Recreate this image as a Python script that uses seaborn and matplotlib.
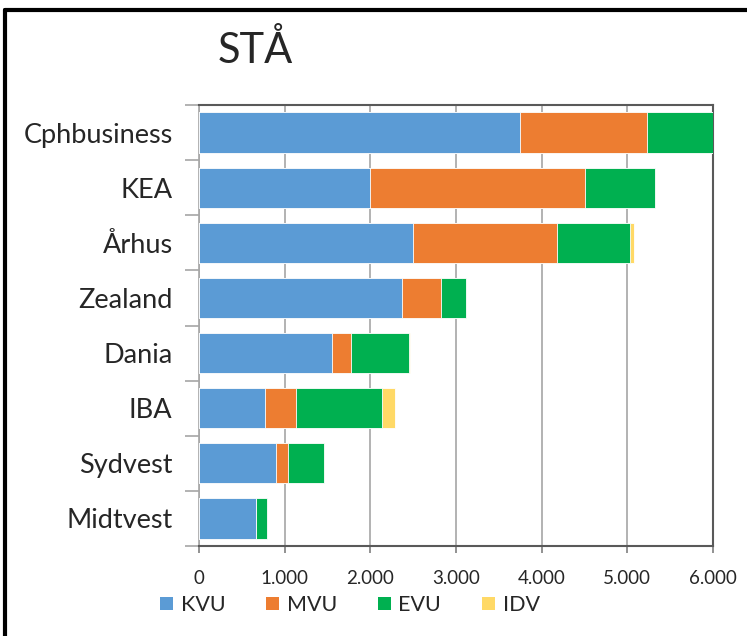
import numpy as np
import pandas as pd
import matplotlib.pyplot as plt
import seaborn as sns
from matplotlib.patches import Patch
from matplotlib.lines import Line2D

schools = ['Cphbusiness', 'KEA', 'Århus', 'Zealand', 'Dania', 'IBA', 'Sydvest', 'Midtvest']
kvu = [3750, 2000, 2500, 2370, 1550, 770, 900, 660]
mvu = [1485, 2510, 1677, 455, 219, 367, 140, 0]
evu = [785, 813, 850, 296, 681, 1001, 421, 133]
idv = [0, 0, 56, 0, 10, 148, 0, 0]

series = ['KVU', 'MVU', 'EVU', 'IDV']
colors = ['#5B9BD5', '#ED7D31', '#00B050', '#FFD966']

df = pd.DataFrame({'school': schools, 'KVU': kvu, 'MVU': mvu, 'EVU': evu, 'IDV': idv})
cum = df[series].cumsum(axis=1)

sns.set_style('white')
plt.rcParams['font.family'] = ['Lato', 'DejaVu Sans']

fig = plt.figure(figsize=(7.47, 6.36), dpi=100)
ax = fig.add_axes([199 / 747, 1 - 546 / 636, 514 / 747, 441 / 636])

# draw totals first, then overlay the smaller cumulative sums
for name, col in reversed(list(zip(series, colors))):
    sns.barplot(x=cum[name], y=df['school'], color=col, saturation=1, orient='h', width=0.73,
                edgecolor='white', linewidth=0.6, ax=ax, zorder=3)

ax.set_xlim(0, 6000)
ax.set_ylim(len(schools) - 0.5, -0.5)
ax.set_xticks(np.arange(0, 6001, 1000))
ax.set_xticklabels([f'{v:,}'.replace(',', '.') for v in range(0, 6001, 1000)], fontsize=13.5)
ax.set_yticks(range(len(schools)))
ax.set_yticklabels(schools, fontsize=19.5)
ax.set_yticks(np.arange(-0.5, len(schools), 1), minor=True)
ax.tick_params(axis='y', which='major', length=0, pad=19)
ax.tick_params(axis='y', which='minor', length=10, width=1.2, color='#A6A6A6', left=True)
ax.tick_params(axis='x', length=5, width=1.2, color='#7F7F7F', bottom=True, pad=12)
ax.set_xlabel('')
ax.set_ylabel('')
ax.grid(axis='x', color='#A6A6A6', linewidth=1.2, zorder=0)
ax.set_axisbelow(True)

for side in ['top', 'right', 'bottom']:
    ax.spines[side].set_visible(True)
    ax.spines[side].set_color('#595959')
    ax.spines[side].set_linewidth(1.5)
ax.spines['left'].set_visible(True)
ax.spines['left'].set_color('#A6A6A6')
ax.spines['left'].set_linewidth(1.2)

fig.text(255 / 747, 1 - 50 / 636, 'STÅ', fontsize=30, ha='center', va='center')

handles = [Patch(facecolor=c, edgecolor='none') for c in colors]
fig.legend(handles, series, loc='center', bbox_to_anchor=(350 / 747, 1 - 605 / 636),
           ncol=4, frameon=False, fontsize=15.5, handlelength=0.6, handleheight=0.6,
           handletextpad=0.35, columnspacing=1.9)

# outer chart border (screenshot cropped on right and bottom)
fig.add_artist(Line2D([5 / 747, 1], [1 - 10 / 636, 1 - 10 / 636], color='black', lw=3,
                      transform=fig.transFigure))
fig.add_artist(Line2D([5 / 747, 5 / 747], [0, 1 - 10 / 636], color='black', lw=3,
                      transform=fig.transFigure))

fig.savefig('out.png', dpi=100)
